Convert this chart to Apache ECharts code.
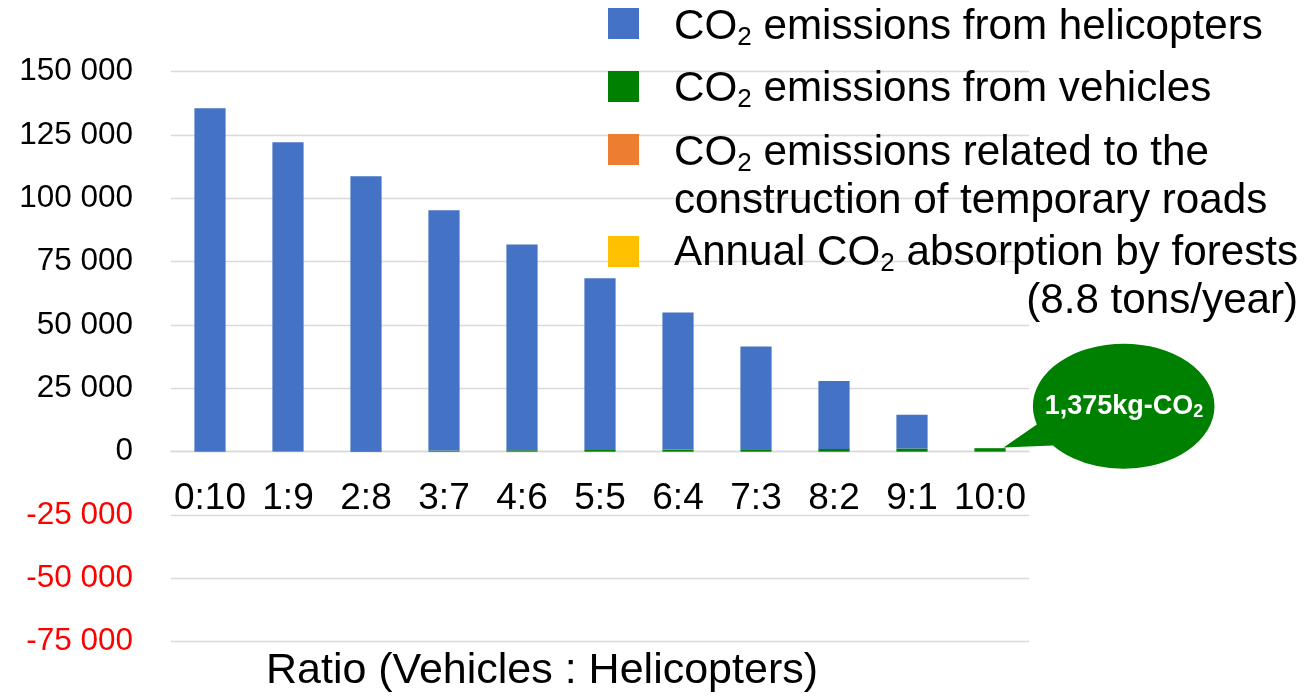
<!DOCTYPE html>
<html><head><meta charset="utf-8">
<script src="https://cdn.jsdelivr.net/npm/echarts@6/dist/echarts.min.js"></script>
<style>html,body{margin:0;padding:0;background:#fff}#c{width:1306px;height:696px}</style>
</head><body><div id="c"></div>
<script>
const categories = ['0:10','1:9','2:8','3:7','4:6','5:5','6:4','7:3','8:2','9:1','10:0'];
const helicopters = [135500, 122000, 108400, 94900, 81200, 67800, 54100, 40500, 26800, 13300, 0];
const vehicles = [0, 138, 275, 413, 550, 688, 825, 963, 1100, 1238, 1375];
const roads = [0, 0, 0, 0, 0, 0, 0, 0, 0, 0, 0];
const absorption = [0, 0, 0, 0, 0, 0, 0, 0, 0, 0, 0];
const yMin = -75000, yMax = 150000, yStep = 25000;
const names = ['CO2 emissions from helicopters','CO2 emissions from vehicles','CO2 emissions related to the construction of temporary roads','Annual CO2 absorption by forests (8.8 tons/year)'];
const axisName = 'Ratio (Vehicles : Helicopters)';

const FONT = 'Liberation Sans, Arial, sans-serif';
const colors = ['#4472C4','#008000','#ED7D31','#FFC000'];
const legendText = {};
legendText[names[0]] = '{a|CO}{s|2}{a| emissions from helicopters}';
legendText[names[1]] = '{a|CO}{s|2}{a| emissions from vehicles}';
legendText[names[2]] = '{a|CO}{s|2}{a| emissions related to the}\n{a|construction of temporary roads}';
legendText[names[3]] = '{a|Annual CO}{s|2}{a| absorption by forests}\n{r|(8.8 tons/year)}';

const LF = 42.2;
const rich = {
  a: {fontSize: LF, lineHeight: 48, color: '#000', fontFamily: FONT},
  r: {fontSize: LF, lineHeight: 48, color: '#000', fontFamily: FONT, align: 'right'},
  s: {fontSize: 26, lineHeight: 20, verticalAlign: 'bottom', color: '#000', fontFamily: FONT}
};
// icon box 120 tall, text centred at 60; the square sits (60 - d) from the box top
function mkLegend(i, squareTop, d, left) {
  const off = 60 - d;
  const gap = 61 - (left - 608);
  return {
    data: [names[i]], left: left, top: squareTop - off, padding: 0, itemGap: 0,
    icon: 'path://M0 0 M0 ' + off + 'H31V' + (off + 31) + 'H0Z M' + gap + ' 120',
    itemWidth: gap, itemHeight: 120, symbolKeepAspect: false,
    selectedMode: false,
    formatter: n => legendText[n],
    textStyle: {rich: rich, fontSize: LF, fontFamily: FONT}
  };
}
function fmt(v) {
  v = Number(v);
  const s = Math.abs(v).toString().replace(/\B(?=(\d{3})+(?!\d))/g, ' ');
  return (v < 0 ? '-' : '') + s;
}
const GRID_H = 696 - 71.6 - 54.3;
const zeroOffset = -GRID_H * (0 - yMin) / (yMax - yMin);
const chart = echarts.init(document.getElementById('c'), null, {renderer: 'canvas'});
chart.setOption({
  animation: false,
  backgroundColor: '#fff',
  textStyle: {fontFamily: FONT},
  grid: {left: 171, right: 277, top: 71.6, bottom: 54.3, containLabel: false, outerBoundsMode: 'none'},
  legend: [mkLegend(0, 8, 19, 608), mkLegend(1, 71, 18, 608), mkLegend(2, 134, 43, 608), mkLegend(3, 236, 41, 608)],
  xAxis: {
    type: 'category', data: categories, position: 'bottom', offset: zeroOffset,
    axisLine: {onZero: false, lineStyle: {color: '#d9d9d9', width: 1.3}},
    axisTick: {show: false},
    axisLabel: {fontSize: 37, color: '#000', margin: 29, interval: 0, fontFamily: FONT},
    name: axisName, nameLocation: 'middle', nameGap: 198,
    nameTextStyle: {fontSize: 43, color: '#000', fontFamily: FONT, padding: [0, 116, 0, 0]}
  },
  yAxis: {
    type: 'value', min: yMin, max: yMax, interval: yStep,
    axisLine: {show: false}, axisTick: {show: false},
    splitLine: {lineStyle: {color: '#d9d9d9', width: 1.3}},
    axisLabel: {fontSize: 31.5, margin: 38, fontFamily: FONT, formatter: fmt,
      color: v => (Number(v) < 0 ? '#FF0000' : '#000000')}
  },
  series: [
    {name: names[1], type: 'bar', stack: 't', data: vehicles, barWidth: '40%', itemStyle: {color: colors[1]},
      markPoint: {
        symbol: 'path://M0,101 L33,78 A90,62.5 0 1,1 49,99 Z',
        symbolSize: [211, 125], symbolOffset: [119, -42], symbolKeepAspect: false,
        itemStyle: {color: '#008000'},
        label: {show: true, position: 'inside', offset: [15, 0],
          formatter: () => '{b|' + vehicles[10].toLocaleString('en-US') + 'kg-CO}{bs|2}',
          rich: {
            b: {fontSize: 27, fontWeight: 'bold', color: '#fff', lineHeight: 30, fontFamily: FONT},
            bs: {fontSize: 18, fontWeight: 'bold', color: '#fff', lineHeight: 8, verticalAlign: 'bottom', fontFamily: FONT}
          }},
        data: [{coord: [categories[10], vehicles[10]]}]
      }},
    {name: names[2], type: 'bar', stack: 't', data: roads, barWidth: '40%', itemStyle: {color: colors[2]}},
    {name: names[0], type: 'bar', stack: 't', data: helicopters, barWidth: '40%', itemStyle: {color: colors[0]}},
    {name: names[3], type: 'bar', stack: 't', data: absorption, barWidth: '40%', itemStyle: {color: colors[3]}}
  ]
});
</script></body></html>
